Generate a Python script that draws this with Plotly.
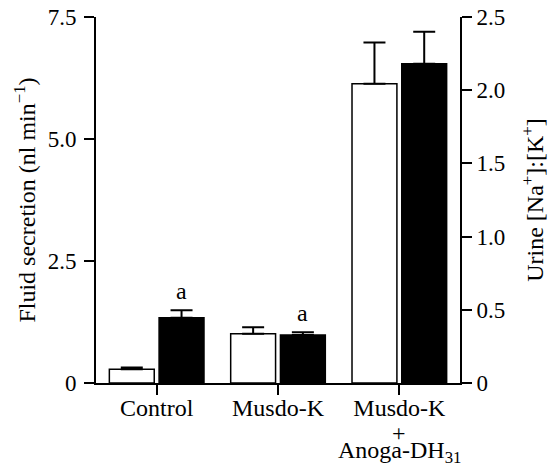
import plotly.graph_objects as go

categories = ["Control", "Musdo-K", "Musdo-K"]
fluid_mean = [0.28, 1.01, 6.13]
fluid_err = [0.04, 0.13, 0.85]
ratio_mean = [0.446, 0.328, 2.18]
ratio_err = [0.051, 0.018, 0.22]
sig_labels = ["a", "a", ""]
extra_line1 = ["", "", "+"]
extra_line2 = ["", "", "Anoga-DH<sub>31</sub>"]

FONT = "Liberation Serif, Times New Roman, serif"
FS = 24
TFS = 23
x = list(range(len(categories)))
W_OFF, W_W = -0.39, 0.37
B_OFF, B_W = 0.02, 0.37

fig = go.Figure()
fig.add_trace(go.Bar(
    x=x, y=fluid_mean, width=W_W, offset=W_OFF,
    marker=dict(color="white", line=dict(color="black", width=1.5)),
    error_y=dict(type="data", array=fluid_err, arrayminus=[0]*3, symmetric=False,
                 color="black", thickness=2, width=11),
    yaxis="y", showlegend=False, hoverinfo="skip"))
fig.add_trace(go.Bar(
    x=x, y=ratio_mean, width=B_W, offset=B_OFF,
    marker=dict(color="black", line=dict(color="black", width=1.5)),
    error_y=dict(type="data", array=ratio_err, arrayminus=[0]*3, symmetric=False,
                 color="black", thickness=2, width=11),
    yaxis="y2", showlegend=False, hoverinfo="skip"))

ann = []
for i, s in enumerate(sig_labels):
    if s:
        ann.append(dict(x=i + B_OFF + B_W / 2, y=ratio_mean[i] + ratio_err[i], xref="x", yref="y2",
                        text=s, showarrow=False, yanchor="bottom", yshift=4,
                        font=dict(family=FONT, size=FS, color="black")))
for i in x:
    if extra_line1[i]:
        ann.append(dict(x=i, y=0, xref="x", yref="paper", text=extra_line1[i], showarrow=False,
                        yanchor="middle", yshift=-50, font=dict(family=FONT, size=FS, color="black")))
    if extra_line2[i]:
        ann.append(dict(x=i, y=0, xref="x", yref="paper", text=extra_line2[i], showarrow=False,
                        yanchor="middle", yshift=-69, font=dict(family=FONT, size=FS, color="black")))

fig.update_layout(
    width=553, height=463,
    margin=dict(l=96, r=93, t=17, b=80),
    paper_bgcolor="white", plot_bgcolor="white",
    font=dict(family=FONT, size=FS, color="black"),
    annotations=ann,
    xaxis=dict(range=[-0.5, 2.5], tickmode="array", tickvals=x, ticktext=categories,
               ticks="outside", ticklen=10, tickwidth=1.5, tickcolor="black", automargin=False,
               ticklabelstandoff=-8,
               showline=True, linecolor="black", linewidth=2, showgrid=False, zeroline=False,
               tickfont=dict(family=FONT, size=FS)),
    yaxis=dict(range=[0, 7.5], tickvals=[0, 2.5, 5.0, 7.5], ticktext=["0", "2.5", "5.0", "7.5"],
               ticks="outside", ticklen=10, tickwidth=1.5, tickcolor="black", automargin=False,
               ticklabelstandoff=3,
               tickfont=dict(family=FONT, size=TFS),
               showline=True, linecolor="black", linewidth=2, showgrid=False, zeroline=False,
               title=dict(text="Fluid secretion (nl min<sup>−1</sup>)", standoff=5,
                          font=dict(family=FONT, size=FS))),
    yaxis2=dict(range=[0, 2.5], overlaying="y", side="right",
                tickvals=[0, 0.5, 1.0, 1.5, 2.0, 2.5], ticktext=["0", "0.5", "1.0", "1.5", "2.0", "2.5"],
                ticks="outside", ticklen=10, tickwidth=1.5, tickcolor="black", automargin=False,
                tickfont=dict(family=FONT, size=TFS),
                showline=True, linecolor="black", linewidth=2, showgrid=False, zeroline=False,
                title=dict(text="Urine [Na<sup>+</sup>]:[K<sup>+</sup>]", standoff=22,
                           font=dict(family=FONT, size=FS))),
)

fig.write_html("out.html", config={"displayModeBar": False},
               post_script="document.body.style.margin='0px';document.body.style.overflow='hidden';")
